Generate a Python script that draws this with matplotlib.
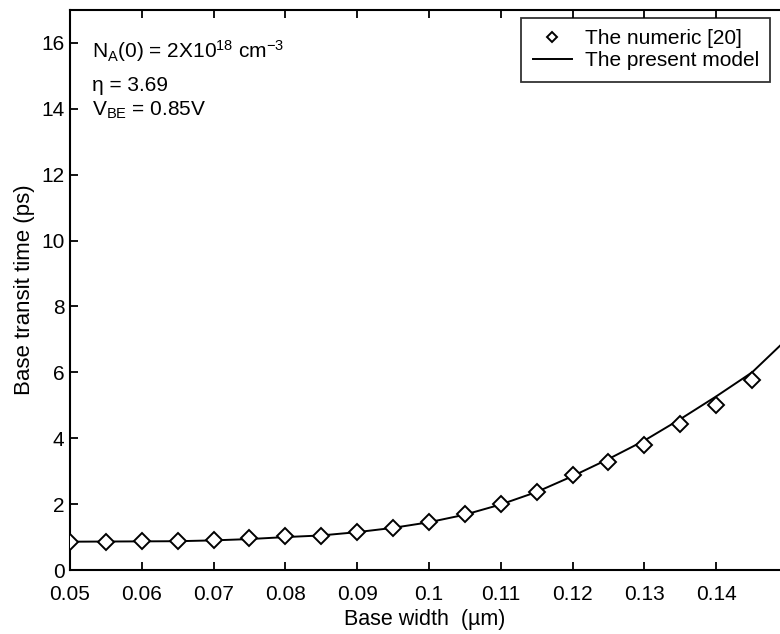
import numpy as np
import matplotlib.pyplot as plt

plt.rcParams['font.family'] = ['Liberation Sans', 'DejaVu Sans']
plt.rcParams['mathtext.default'] = 'regular'

# base width (um) and base transit time (ps)
width_numeric = [0.050, 0.055, 0.060, 0.065, 0.070, 0.075, 0.080, 0.085, 0.090, 0.095,
                 0.100, 0.105, 0.110, 0.115, 0.120, 0.125, 0.130, 0.135, 0.140, 0.145]
tau_numeric = [0.86, 0.86, 0.87, 0.87, 0.92, 0.96, 1.02, 1.04, 1.14, 1.28,
               1.45, 1.71, 1.99, 2.37, 2.89, 3.27, 3.81, 4.43, 5.02, 5.77]

width_model = [0.050, 0.055, 0.060, 0.065, 0.070, 0.075, 0.080, 0.085, 0.090, 0.095,
               0.100, 0.105, 0.110, 0.115, 0.120, 0.125, 0.130, 0.135, 0.140, 0.145, 0.150]
tau_model = [0.86, 0.865, 0.87, 0.875, 0.90, 0.94, 1.00, 1.05, 1.15, 1.28,
             1.45, 1.68, 1.99, 2.37, 2.85, 3.37, 3.93, 4.58, 5.27, 6.00, 7.04]

x_ticks = [0.05, 0.06, 0.07, 0.08, 0.09, 0.1, 0.11, 0.12, 0.13, 0.14]
x_ticklabels = ['0.05', '0.06', '0.07', '0.08', '0.09', '0.1', '0.11', '0.12', '0.13', '0.14']
y_ticks = [0, 2, 4, 6, 8, 10, 12, 14, 16]


def main():
    fig = plt.figure(figsize=(7.8, 6.34), dpi=100)
    # right edge runs past the figure border, so the right spine is clipped
    ax = fig.add_axes([0.0897, 0.1009, 0.9205, 0.8833])

    ax.plot(width_numeric, tau_numeric, linestyle='none', marker='D', markersize=8,
            markerfacecolor='white', markeredgecolor='black', markeredgewidth=1.4,
            label='The numeric [20]', zorder=3)
    ax.plot(width_model, tau_model, color='black', linewidth=1.4,
            label='The present model', zorder=2)

    ax.set_xlim(0.05, 0.15)
    ax.set_ylim(0, 17)
    ax.set_xticks(x_ticks)
    ax.set_xticklabels(x_ticklabels)
    ax.set_yticks(y_ticks)
    ax.tick_params(direction='in', length=6, width=1.3, top=True, right=True,
                   labelsize=15)
    ax.tick_params(axis='x', pad=11)
    ax.tick_params(axis='y', pad=4)
    for sp in ax.spines.values():
        sp.set_linewidth(1.5)

    ax.set_xlabel('Base width  (\u00b5m)', fontsize=15.5)
    ax.xaxis.set_label_coords(0.494, -0.0884, transform=ax.transAxes)
    ax.xaxis.label.set_va('center')
    ax.set_ylabel('Base transit time (ps)', fontsize=16, labelpad=4)

    ax.text(0.0531, 15.54, r'N$_{A}$(0) = 2X10$^{18}$ cm$^{-3}$', fontsize=15,
            va='baseline', ha='left')
    ax.text(0.0531, 14.54, '\u03b7 = 3.69', fontsize=15, va='baseline', ha='left')
    ax.text(0.0531, 13.78, r'V$_{BE}$ = 0.85V', fontsize=15, va='baseline', ha='left')

    leg = ax.legend(loc='upper right', bbox_to_anchor=(0.9755, 0.986), fontsize=15,
                    frameon=True, fancybox=False, handlelength=1.9,
                    borderpad=0.55, labelspacing=0.15, handletextpad=0.6,
                    markerscale=0.65, borderaxespad=0.0)
    leg.get_frame().set_edgecolor('black')
    leg.get_frame().set_linewidth(1.3)

    fig.savefig('out.png', dpi=100)


if __name__ == '__main__':
    main()
